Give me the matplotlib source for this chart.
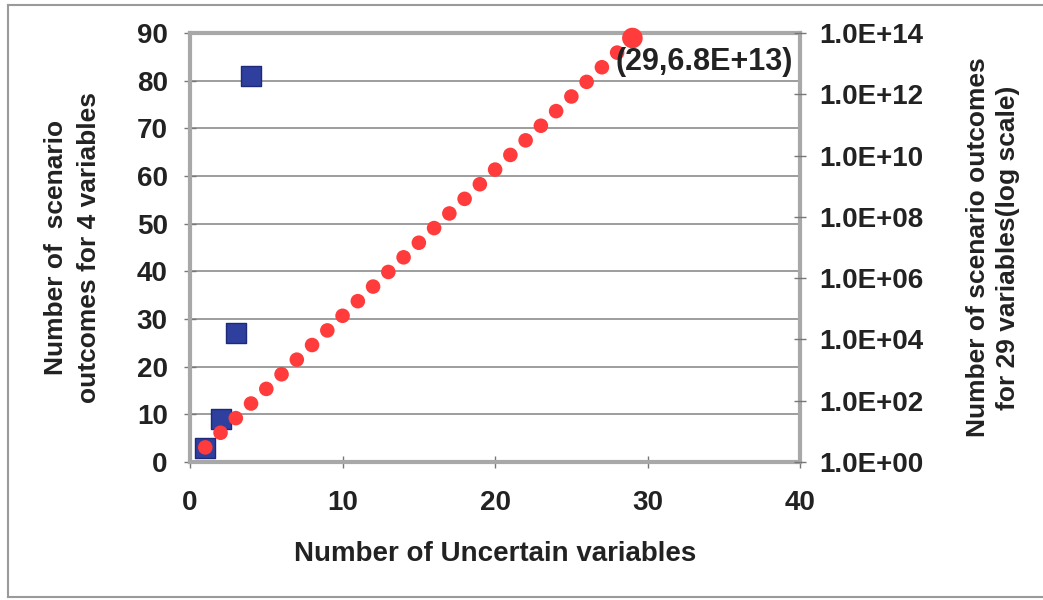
import matplotlib.pyplot as plt
from matplotlib.lines import Line2D

plt.rcParams['font.family'] = ['Liberation Sans', 'DejaVu Sans']
plt.rcParams['font.weight'] = 'bold'
plt.rcParams['axes.labelweight'] = 'bold'

# Scenario outcomes for 4 variables (left axis)
n_four = [1, 2, 3, 4]
outcomes_four = [3, 9, 27, 81]

# Scenario outcomes for 29 variables (right axis, log scale)
n_all = list(range(1, 30))
outcomes_all = [3, 9, 27, 81, 243, 729, 2187, 6561, 19683, 59049,
                1.77e5, 5.31e5, 1.59e6, 4.78e6, 1.43e7, 4.30e7, 1.29e8, 3.87e8,
                1.16e9, 3.49e9, 1.05e10, 3.14e10, 9.41e10, 2.82e11, 8.47e11,
                2.54e12, 7.63e12, 2.29e13, 6.86e13]

left_ticks = [0, 10, 20, 30, 40, 50, 60, 70, 80, 90]
right_ticks = [1e0, 1e2, 1e4, 1e6, 1e8, 1e10, 1e12, 1e14]
right_labels = ['1.0E+00', '1.0E+02', '1.0E+04', '1.0E+06', '1.0E+08',
                '1.0E+10', '1.0E+12', '1.0E+14']
x_ticks = [0, 10, 20, 30, 40]

fig = plt.figure(figsize=(10.43, 6.0), dpi=100)
ax = fig.add_axes([0.1822, 0.23, 0.585, 0.715])
ax2 = ax.twinx()

spine_col = '#a8a8a8'
grid_col = '#8c8c8c'
txt_col = '#222222'
fs = 20

ax.set_xlim(0, 40)
ax.set_ylim(0, 90)
ax.set_yticks(left_ticks)
ax.set_xticks(x_ticks)
ax.grid(axis='y', color=grid_col, linewidth=1.2)
ax.set_axisbelow(True)
for s in ax.spines.values():
    s.set_color(spine_col)
    s.set_linewidth(3)
for s in ax2.spines.values():
    s.set_visible(False)
ax.tick_params(axis='both', direction='inout', length=8, width=1, color='#777777',
               labelsize=fs, labelcolor=txt_col, pad=12)
ax.tick_params(axis='x', pad=16)

ax2.set_yscale('log')
ax2.set_ylim(1, 1e14)
ax2.set_yticks(right_ticks)
ax2.set_yticklabels(right_labels)
ax2.minorticks_off()
ax2.tick_params(axis='y', direction='inout', length=8, width=1, color='#777777',
                labelsize=fs, labelcolor=txt_col, pad=10)

ax.scatter(n_four, outcomes_four, marker='s', s=190, color='#2f3f9e',
           edgecolor='#1d2a7a', linewidth=1, zorder=3, clip_on=False)
ax2.scatter(n_all[:-1], outcomes_all[:-1], marker='o', s=110, color='#ff3b3b',
            edgecolor='none', zorder=4, clip_on=False)
ax2.scatter(n_all[-1:], outcomes_all[-1:], marker='o', s=220, color='#ff3b3b',
            edgecolor='none', zorder=4, clip_on=False)
ax2.annotate('(29,6.8E+13)', xy=(n_all[-1], outcomes_all[-1]), xytext=(-17, -24),
             textcoords='offset pixels', fontsize=22, fontweight='bold', color=txt_col,
             ha='left', va='center', zorder=5)

ax.set_xlabel('Number of Uncertain variables', fontsize=fs, color=txt_col, labelpad=18)
ax.set_ylabel('Number of  scenario\noutcomes for 4 variables', fontsize=19,
              color=txt_col, labelpad=26, linespacing=1.45)
ax2.set_ylabel('Number of scenario outcomes\nfor 29 variables(log scale)', fontsize=19,
               color=txt_col, labelpad=30, linespacing=1.35)

# outer chart frame
frame = '#9a9a9a'
fig.add_artist(Line2D([0.008, 1.0], [0.992, 0.992], color=frame, linewidth=1.5))
fig.add_artist(Line2D([0.008, 1.0], [0.005, 0.005], color=frame, linewidth=1.5))
fig.add_artist(Line2D([0.008, 0.008], [0.005, 0.992], color=frame, linewidth=1.5))

fig.savefig('out.png', dpi=100)
